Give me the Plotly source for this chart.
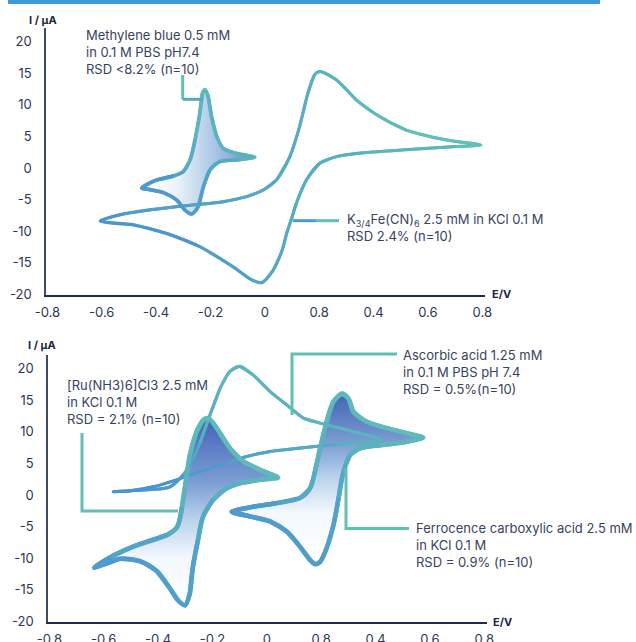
import plotly.graph_objects as go

W, H = 636, 642

# ---------------- data (E in V, I in µA) ----------------
# top panel: K3/4Fe(CN)6 cyclic voltammogram
fe_E = [-0.606, -0.52, -0.397, -0.275, -0.153, -0.067, -0.006, 0.043, 0.092, 0.128, 0.159, 0.183, 0.202,
        0.263, 0.312, 0.336, 0.422, 0.52, 0.606, 0.703, 0.795, 0.703, 0.544, 0.361, 0.263, 0.202, 0.153,
        0.116, 0.098, 0.08, 0.064, 0.031, -0.012, -0.055, -0.116, -0.238, -0.361, -0.484]
fe_I = [-8.4, -7.3, -6.5, -5.9, -5.35, -4.55, -3.5, -1.9, 1.8, 6.55, 11.9, 14.8, 15.3,
        14.0, 11.9, 10.8, 8.15, 6.0, 5.0, 4.2, 3.65, 3.4, 2.95, 2.4, 1.8, 0.75, -1.9,
        -5.6, -8.1, -10.4, -13.0, -16.2, -18.2, -17.6, -15.7, -12.5, -10.4, -9.0]
# top panel: methylene blue
mb_E = [-0.453, -0.397, -0.336, -0.3, -0.275, -0.257, -0.241, -0.229, -0.22, -0.208, -0.196, -0.177, -0.153,
        -0.104, -0.037, -0.104, -0.165, -0.202, -0.226, -0.245, -0.269, -0.294, -0.324, -0.373, -0.42]
mb_I = [-3.2, -1.9, -1.27, -0.6, 1.27, 4.4, 8.15, 11.9, 12.4, 11.3, 8.15, 5.0, 3.1,
        2.3, 1.7, 1.27, 1.0, -0.3, -3.0, -6.15, -7.3, -6.7, -5.1, -3.9, -3.45]

# bottom panel: [Ru(NH3)6]Cl3
ru_E = [-0.635, -0.577, -0.492, -0.367, -0.330, -0.312, -0.301, -0.283, -0.258, -0.234, -0.215, -0.184, -0.135,
        -0.086, -0.025, 0.042, -0.025, -0.099, -0.146, -0.198, -0.235, -0.253, -0.272, -0.283, -0.301, -0.327,
        -0.360, -0.404, -0.467, -0.540]
ru_I = [-11.5, -9.9, -8.2, -6.35, -5.08, -1.9, 1.27, 6.35, 10.05, 11.9, 12.2, 10.6, 7.4,
        5.3, 4.0, 2.75, 2.4, 1.86, 1.1, -0.8, -3.5, -7.1, -11.4, -15.6, -17.5, -16.7,
        -14.6, -12.1, -10.5, -10.1]
# bottom panel: ascorbic acid
aa_E = [-0.565, -0.454, -0.356, -0.307, -0.270, -0.246, -0.209, -0.172, -0.135, -0.099, -0.050, 0.012, 0.073,
        0.134, 0.196, 0.318, 0.392, 0.423, 0.368, 0.257, 0.134, 0.012, -0.074, -0.148, -0.246, -0.332,
        -0.417, -0.515]
aa_I = [0.52, 0.8, 1.3, 3.2, 5.8, 8.3, 12.7, 16.9, 19.6, 20.4, 19.0, 16.4, 14.3,
        12.2, 11.4, 10.05, 9.2, 8.7, 8.35, 8.05, 7.5, 6.9, 6.1, 5.0, 3.7, 2.4,
        1.3, 0.6]
# bottom panel: ferrocene carboxylic acid
fc_E = [-0.129, -0.050, 0.036, 0.122, 0.159, 0.177, 0.196, 0.220, 0.245, 0.276, 0.300, 0.318, 0.368,
        0.441, 0.515, 0.576, 0.515, 0.417, 0.343, 0.306, 0.282, 0.264, 0.245, 0.220, 0.196, 0.177,
        0.159, 0.122, 0.073, 0.012, -0.062]
fc_I = [-2.65, -1.86, -1.3, -0.5, 1.06, 3.7, 7.4, 11.6, 14.8, 16.1, 15.3, 13.2, 11.6,
        10.6, 9.8, 9.1, 8.45, 7.9, 7.4, 6.35, 3.7, -0.5, -4.8, -8.45, -10.6, -11.0,
        -10.3, -8.2, -5.8, -4.2, -3.4]

x_tickvals = [-0.8, -0.6, -0.4, -0.2, 0, 0.2, 0.4, 0.6, 0.8]
x_ticktext = ["-0.8", "-0.6", "-0.4", "-0.2", "0", "0.8", "0.4", "0.6", "0.8"]
y_tickvals = [-20, -15, -10, -5, 0, 5, 10, 15, 20]
y_ticktext = ["-20", "-15", "-10", "-5", "0", "5", "10", "15", "20"]

labels = {
    "mb": "Methylene blue 0.5 mM<br>in 0.1 M PBS pH7.4<br>RSD <8.2% (n=10)",
    "fe": "K<sub>3/4</sub>Fe(CN)<sub>6</sub> 2.5 mM in KCl 0.1 M<br>RSD 2.4% (n=10)",
    "ru": "[Ru(NH3)6]Cl3 2.5 mM<br>in KCl 0.1 M<br>RSD = 2.1% (n=10)",
    "aa": "Ascorbic acid 1.25 mM<br>in 0.1 M PBS pH 7.4<br>RSD = 0.5%(n=10)",
    "fc": "Ferrocence carboxylic acid 2.5 mM<br>in KCl 0.1 M<br>RSD = 0.9% (n=10)",
}

# ---------------- styling ----------------
FONT = "Inter"
BLUE = (74, 146, 210)
TEAL = (100, 196, 180)
TXT = "#374360"


def mix(t):
    t = max(0.0, min(1.0, t))
    return "rgb(%d,%d,%d)" % tuple(round(b + (c - b) * t) for b, c in zip(BLUE, TEAL))


fig = go.Figure()


def add_fill(xs, ys, xa, ya, gtype, cscale):
    fig.add_trace(go.Scatter(
        x=list(xs) + [xs[0]], y=list(ys) + [ys[0]], mode="lines", fill="toself",
        line=dict(width=0, shape="spline", smoothing=0.8),
        fillgradient=dict(type=gtype, colorscale=cscale),
        xaxis=xa, yaxis=ya, hoverinfo="skip", showlegend=False))


def add_grad_line(xs, ys, tfun, width, xa, ya, step=2):
    n = len(xs)
    for i in range(0, n, step):
        idx = [k % n for k in range(i - 1, i + step + 2)]
        core = [k % n for k in range(i, i + step + 1)]
        t = sum(tfun(xs[k], ys[k]) for k in core) / len(core)
        fig.add_trace(go.Scatter(
            x=[xs[k] for k in idx], y=[ys[k] for k in idx], mode="lines",
            line=dict(color=mix(t), width=width, shape="spline", smoothing=0.8),
            xaxis=xa, yaxis=ya, hoverinfo="skip", showlegend=False))


# top panel
add_fill(mb_E, mb_I, "x", "y", "horizontal",
         [[0, "#ffffff"], [0.3, "#eef4fb"], [0.55, "#bcd3ec"], [0.8, "#8caedd"], [1, "#5b7fc6"]])
add_grad_line(fe_E, fe_I, lambda e, i: (e + 0.6) / 1.4, 3, "x", "y")
add_grad_line(mb_E, mb_I, lambda e, i: 0.5 * (i + 7.3) / 19.7 + 0.5 * (e + 0.45) / 0.41, 3.5, "x", "y")

# bottom panel
add_fill(ru_E, ru_I, "x2", "y2", "vertical",
         [[0, "#ffffff"], [0.25, "#f3f8fd"], [0.45, "#bcd4ec"], [0.65, "#7d9fd5"], [1, "#4263b4"]])
add_fill(fc_E, fc_I, "x2", "y2", "vertical",
         [[0, "#ffffff"], [0.3, "#f3f8fd"], [0.5, "#bcd4ec"], [0.7, "#7d9fd5"], [1, "#4263b4"]])
add_grad_line(aa_E, aa_I, lambda e, i: 0.5 * (i - 0.5) / 20 + 0.5 * (e + 0.565) / 0.99, 3, "x2", "y2")
add_grad_line(ru_E, ru_I, lambda e, i: 0.5 * (i + 17.5) / 29.7 + 0.5 * (e + 0.64) / 0.68, 4.5, "x2", "y2")
add_grad_line(fc_E, fc_I, lambda e, i: 0.5 * (i + 11) / 27.1 + 0.5 * (e + 0.13) / 0.71, 4.5, "x2", "y2")


def P(px, py):
    return px / W, 1 - py / H


xaxis_common = dict(range=[-0.805, 0.81], tickvals=x_tickvals, ticktext=x_ticktext, showline=True,
                    linecolor="#1e2b50", linewidth=1.6, showgrid=False, zeroline=False, ticks="outside",
                    ticklen=5, tickcolor="rgba(0,0,0,0)", automargin=False,
                    tickfont=dict(family=FONT, size=13, color="#2b3754"), fixedrange=True)
yaxis_common = dict(range=[-20.15, 22.2], tickvals=y_tickvals, ticktext=y_ticktext, showline=True,
                    linecolor="#404a66", linewidth=1.5, showgrid=False, zeroline=False, ticks="outside",
                    ticklen=10, tickcolor="rgba(0,0,0,0)", automargin=False,
                    tickfont=dict(family=FONT, size=13, color="#2b3754"), fixedrange=True)

fig.update_layout(
    template="none",
    width=W, height=H, autosize=False,
    margin=dict(l=0, r=0, t=0, b=0, pad=0),
    paper_bgcolor="white", plot_bgcolor="white",
    showlegend=False,
    xaxis=dict(domain=[46 / W, 485 / W], anchor="y", **xaxis_common),
    yaxis=dict(domain=[1 - 295 / H, 1 - 28 / H], anchor="x", **yaxis_common),
    xaxis2=dict(domain=[48 / W, 487 / W], anchor="y2", **xaxis_common),
    yaxis2=dict(domain=[1 - 622 / H, 1 - 355 / H], anchor="x2", **yaxis_common),
)

# leader lines (paper coordinates from pixel positions)
TEALC = "rgb(98,192,178)"
leaders = [
    ([(182.7, 75), (182.7, 99.3)], TEALC),
    ([(182.7, 99.3), (203, 99.3)], "rgb(84,168,196)"),
    ([(293, 220.7), (316, 220.7)], "rgb(78,154,206)"),
    ([(316, 220.7), (339, 220.7)], "rgb(96,190,182)"),
    ([(82, 433), (82, 511), (178, 511)], TEALC),
    ([(397, 354), (292, 354), (292, 415)], TEALC),
    ([(409, 528.5), (346, 528.5), (346, 468)], TEALC),
]
for pts, col in leaders:
    path = ""
    for k, (px, py) in enumerate(pts):
        x, y = P(px, py)
        path += ("M" if k == 0 else " L") + " %.5f,%.5f" % (x, y)
    fig.add_shape(type="path", path=path, xref="paper", yref="paper",
                  line=dict(color=col, width=3))

# top banner
bx0, by0 = P(8, 4)
bx1, by1 = P(600, 0)
fig.add_shape(type="rect", x0=bx0, x1=bx1, y0=by0, y1=by1, xref="paper", yref="paper",
              fillcolor="#3f9ad5", line=dict(width=0))


def note(text, px, py, size=13, color=TXT, bold=False, anchor="middle"):
    x, y = P(px, py)
    fig.add_annotation(text=("<b>%s</b>" % text) if bold else text, x=x, y=y, xref="paper", yref="paper",
                       xanchor="left", yanchor=anchor, align="left", showarrow=False,
                       font=dict(family=FONT, size=size, color=color))


note(labels["mb"], 84, 51.5)
note(labels["fe"], 345, 227)
note(labels["ru"], 65, 402)
note(labels["aa"], 401, 371.5)
note(labels["fc"], 414, 545)

note("I / µA", 27, 20, size=11, color="#1c2540", bold=True)
note("I / µA", 26, 345, size=11, color="#1c2540", bold=True)
note("E/V", 490, 294, size=11, color="#1c2540", bold=True)
note("E/V", 491, 622, size=11, color="#1c2540", bold=True)

fig.write_html("out.html", config={"displayModeBar": False},
               post_script="document.body.style.margin='0';document.body.style.overflow='hidden';")
